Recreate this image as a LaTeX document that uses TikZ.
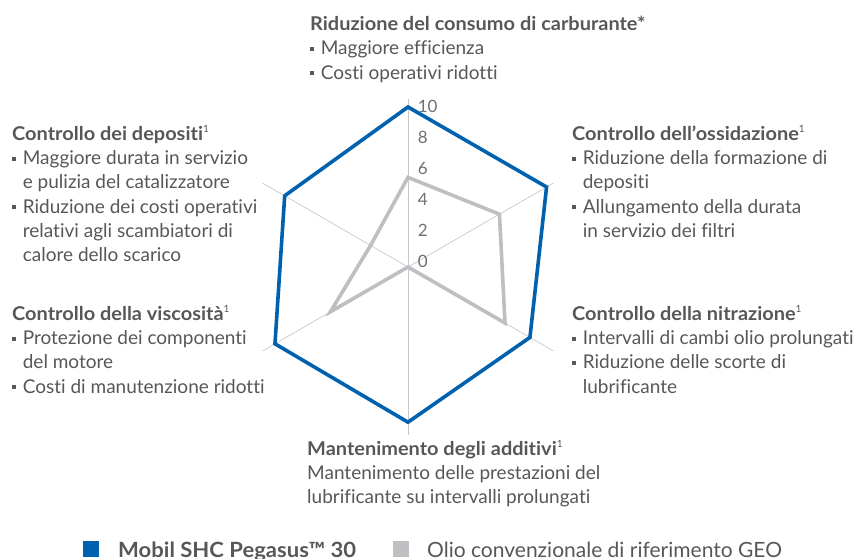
\documentclass[tikz,border=0pt]{standalone}
\usepackage{fontspec}
\setmainfont{Lato}[Ligatures=NoCommon, BoldFeatures={FakeStretch=1.05}]
\usetikzlibrary{positioning}
\definecolor{mobilblue}{RGB}{0,97,175}
\definecolor{refgrey}{RGB}{190,191,194}
\definecolor{axisgrey}{RGB}{200,200,200}
\definecolor{txtgrey}{RGB}{87,87,89}
\newcommand{\bul}{\rule[0.2em]{0.22em}{0.22em}\hspace{0.34em}}
\newcommand{\indnt}{\hspace*{0.56em}}
\newcommand{\fnone}{\raisebox{0.42em}{\fontsize{10}{10}\selectfont 1}}

\begin{document}
\begin{tikzpicture}[x=1pt, y=-1pt,
  lbl/.style={anchor=north west, inner sep=0pt, align=left, text=txtgrey, font=\fontsize{19}{24.3}\selectfont},
  tick/.style={anchor=west, inner sep=0pt, text=txtgrey!85, font=\fontsize{17}{17}\selectfont},
  series/.style={line width=3.6pt, line join=miter},
  legbox/.style={minimum size=16pt, inner sep=0pt, anchor=north west},
  legtxt/.style={anchor=base west, inner sep=0pt, text=txtgrey, font=\fontsize{21}{21}\selectfont}
]
\useasboundingbox (0,0) rectangle (857,559);

% radar chart, one unit = 16pt
\begin{scope}[shift={(408,267)}, x=16pt, y=16pt]
  \foreach \a in {90,30,-30,-90,-150,150}
    \draw[axisgrey, line width=0.7pt] (0,0) -- (\a:10.5);
  \draw[series, refgrey] (90:5.6) -- (30:6.6) -- (-30:7.0) -- (0,0) -- (-150:5.6) -- (150:2.7) -- cycle;
  \draw[series, mobilblue] (90:10) -- (30:10) -- (-30:8.8) -- (-90:9.7) -- (-150:9.6) -- (150:8.9) -- cycle;
  \foreach \v in {0,2,...,10}
    \node[tick] (t\v) at (0.6, {0.33+0.969*\v}) {\v};
\end{scope}

\node[lbl] (fuel) at (310,16) {\textbf{Riduzione del consumo di carburante*}\\
  \bul Maggiore efficienza\\
  \bul Costi operativi ridotti};
\node[lbl] (deposits) at (12,125) {\textbf{Controllo dei depositi}\fnone\\
  \bul Maggiore durata in servizio\\
  \indnt e pulizia del catalizzatore\\
  \bul Riduzione dei costi operativi\\
  \indnt relativi agli scambiatori di\\
  \indnt calore dello scarico};
\node[lbl] (oxid) at (572,125) {\textbf{Controllo dell’ossidazione}\fnone\\
  \bul Riduzione della formazione di\\
  \indnt depositi\\
  \bul Allungamento della durata\\
  \indnt in servizio dei filtri};
\node[lbl] (visc) at (12,305) {\textbf{Controllo della viscosità}\fnone\\
  \bul Protezione dei componenti\\
  \indnt del motore\\
  \bul Costi di manutenzione ridotti};
\node[lbl] (nitr) at (572,305) {\textbf{Controllo della nitrazione}\fnone\\
  \bul Intervalli di cambi olio prolungati\\
  \bul Riduzione delle scorte di\\
  \indnt lubrificante};
\node[lbl] (addit) at (307,440) {\textbf{Mantenimento degli additivi}\fnone\\
  Mantenimento delle prestazioni del\\
  lubrificante su intervalli prolungati};

% legend
\node[legbox, fill=mobilblue] (legmobil) at (83,541) {};
\node[legtxt, font=\fontsize{21}{21}\selectfont\bfseries] (legmobiltxt) at (118,557.5) {Mobil SHC Pegasus™ 30};
\node[legbox, fill=refgrey] (legref) at (393,541) {};
\node[legtxt] (legreftxt) at (427,557.5) {Olio convenzionale di riferimento GEO};
\end{tikzpicture}
\end{document}
